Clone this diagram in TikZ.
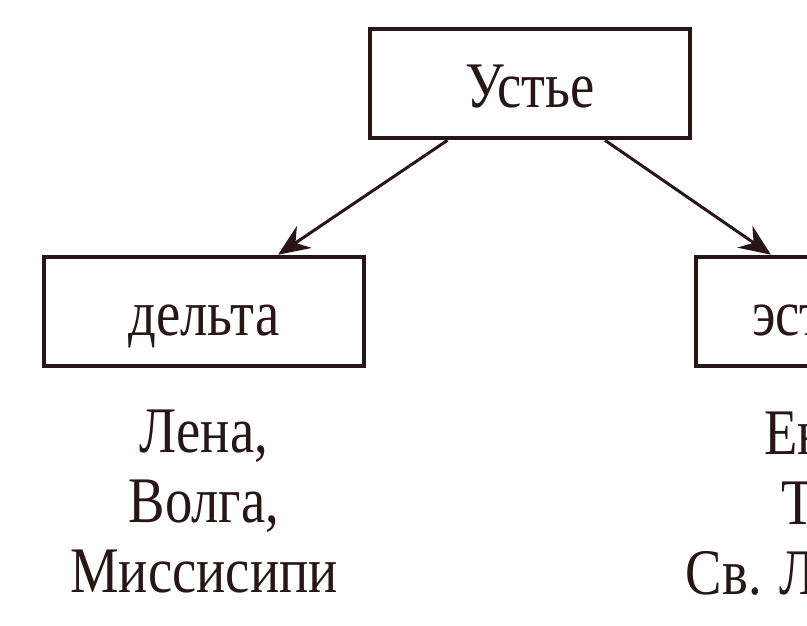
\documentclass[tikz,border=0pt]{standalone}
\usepackage{fontspec}
\setmainfont[FakeStretch=0.84]{Liberation Serif}
\usetikzlibrary{arrows.meta,calc,positioning}
\definecolor{ink}{RGB}{40,22,22}

\begin{document}
\begin{tikzpicture}[
  every node/.style={font=\fontsize{37pt}{39.7pt}\selectfont, text=ink},
  box/.style={draw=ink, line width=2.6pt, minimum width=6.4cm, minimum height=2.18cm,
    inner sep=0pt, text height=27pt, text depth=0pt},
  rivers/.style={align=center, inner sep=0pt, anchor=north},
  arr/.style={draw=ink, line width=1.7pt, -{Stealth[length=18pt,width=15pt,inset=6pt]}}]
  \useasboundingbox (0,0) rectangle (16.14,-12.5);
  \clip (0,0) rectangle (16.14,-12.5);
  % boxes
  \node[box] (ustye) at (10.6,-1.67) {Устье};
  \node[box] (delta) at (4.08,-6.23) {дельта};
  \node[box] (estuary) at (17.12,-6.23) {эстуарий};
  % examples under the boxes
  \node[rivers] (deltaR) at (4.08,-8.2) {Лена,\\ Волга,\\ Миссисипи};
  \node[rivers] (estuaryR) at (17.12,-8.2) {Енисей,\\ Темза,\\ Св. Лаврентия};
  % arrows
  \draw[arr] ($(ustye.south)+(-1.65,0)$) -- ($(delta.north)+(1.48,0)$);
  \draw[arr] ($(ustye.south)+(1.5,0)$) -- ($(estuary.north)+(-1.7,0)$);
\end{tikzpicture}
\end{document}
